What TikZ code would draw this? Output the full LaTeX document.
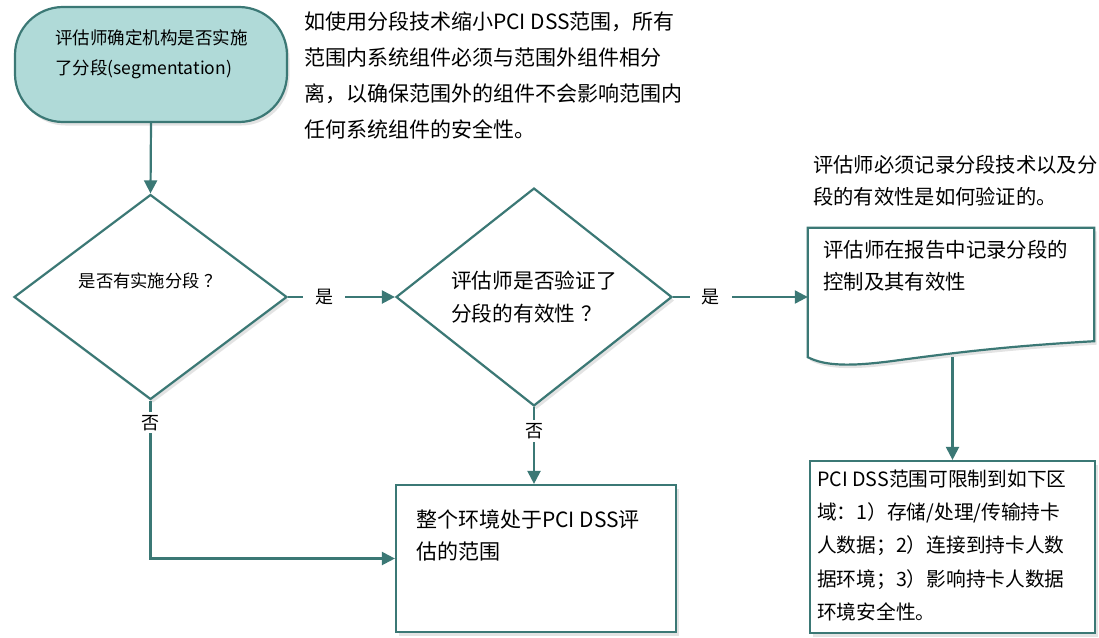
\documentclass[tikz,border=0pt]{standalone}
\usepackage{fontspec}
\setmainfont{Noto Sans CJK SC}
\usetikzlibrary{shapes.geometric,arrows.meta,shadows,calc}
\definecolor{lineteal}{HTML}{3B7875}
\definecolor{fillteal}{HTML}{B0DAD8}
\begin{document}
\begin{tikzpicture}[x=1pt,y=-1pt,
  shp/.style={draw=lineteal, line width=2.2pt, fill=white,
    drop shadow={opacity=0.22, shadow xshift=2.5pt, shadow yshift=-3.5pt}},
  conn/.style={draw=lineteal, line width=2.2pt, -{Triangle[length=13pt,width=13pt]}},
  lbl/.style={fill=white, text=black, font=\fontsize{18}{18}\selectfont, inner xsep=12pt, inner ysep=3pt},
  txt/.style={anchor=north west, inner sep=0pt, align=left, text=black}]
\useasboundingbox (0,0) rectangle (1099,637);

% shapes
\node[shp, fill=fillteal, rounded corners=48pt, minimum width=272pt, minimum height=115pt, inner sep=0pt] (start) at (151,64.5) {};
\node[shp, diamond, minimum width=273pt, minimum height=205pt, inner sep=0pt,
  font=\fontsize{17.3}{28}\selectfont, align=center] (d1) at (150.5,297) {是否有实施分段\hspace{0.3em}？\\[6pt]\mbox{}};
\node[shp, diamond, minimum width=276pt, minimum height=203pt, inner sep=0pt,
  font=\fontsize{20.7}{33}\selectfont, align=left] (d2) at (534,297) {评估师是否验证了\\分段的有效性\hspace{0.3em}？};
\node[minimum width=286pt, minimum height=129pt, inner sep=0pt] (doc) at (951,292.5) {};
\path[shp] (doc.north west) -- (doc.north east) -- ($(doc.south east)+(0,-16)$)
  .. controls (1010,346) and (960,352) .. (900,360)
  .. controls (850,367) and (825,366) .. (doc.south west) -- cycle;
\node[shp, minimum width=280pt, minimum height=147pt, inner sep=0pt] (box2) at (536,558.5) {};
\node[shp, minimum width=285pt, minimum height=172pt, inner sep=0pt] (box3) at (952.5,547) {};

% texts
\node[txt, font=\fontsize{17.5}{30}\selectfont] (t0) at (55,29) {评估师确定机构是否实施\\了分段(segmentation)};
\node[txt, font=\fontsize{21}{36}\selectfont] (n1) at (304,11.5) {如使用分段技术缩小PCI DSS范围，所有\\范围内系统组件必须与范围外组件相分\\离，以确保范围外的组件不会影响范围内\\任何系统组件的安全性。};
\node[txt, font=\fontsize{20.3}{32}\selectfont] (n2) at (813,155) {评估师必须记录分段技术以及分\\段的有效性是如何验证的。};
\node[txt, font=\fontsize{20.4}{32}\selectfont] (t3) at (823,240) {评估师在报告中记录分段的\\控制及其有效性};
\node[txt, font=\fontsize{21}{32}\selectfont] (t4) at (416,510) {整个环境处于PCI DSS评\\估的范围};
\node[txt, font=\fontsize{19.7}{33.3}\selectfont] (t5) at (817,469.5) {PCI DSS范围可限制到如下区\\域：1）存储/处理/传输持卡\\人数据；2）连接到持卡人数\\据环境；3）影响持卡人数据\\环境安全性。};

% connectors
\draw[conn] (start.south) -- (d1.north);
\draw[conn] (d1.east) -- node[lbl, pos=0.34] {是} (d2.west);
\draw[conn] (d2.east) -- node[lbl, pos=0.28] {是} (d2.east -| doc.west);
\draw[conn] (d1.south) -- node[lbl, pos=0.14, inner xsep=3pt] {否} (d1.south |- box2.west) -- (box2.west);
\draw[conn] (d2.south) -- node[lbl, pos=0.31, inner xsep=3pt] {否} (d2.south |- box2.north);
\draw[conn] (box3.north |- doc.south) -- (box3.north);
\end{tikzpicture}
\end{document}
